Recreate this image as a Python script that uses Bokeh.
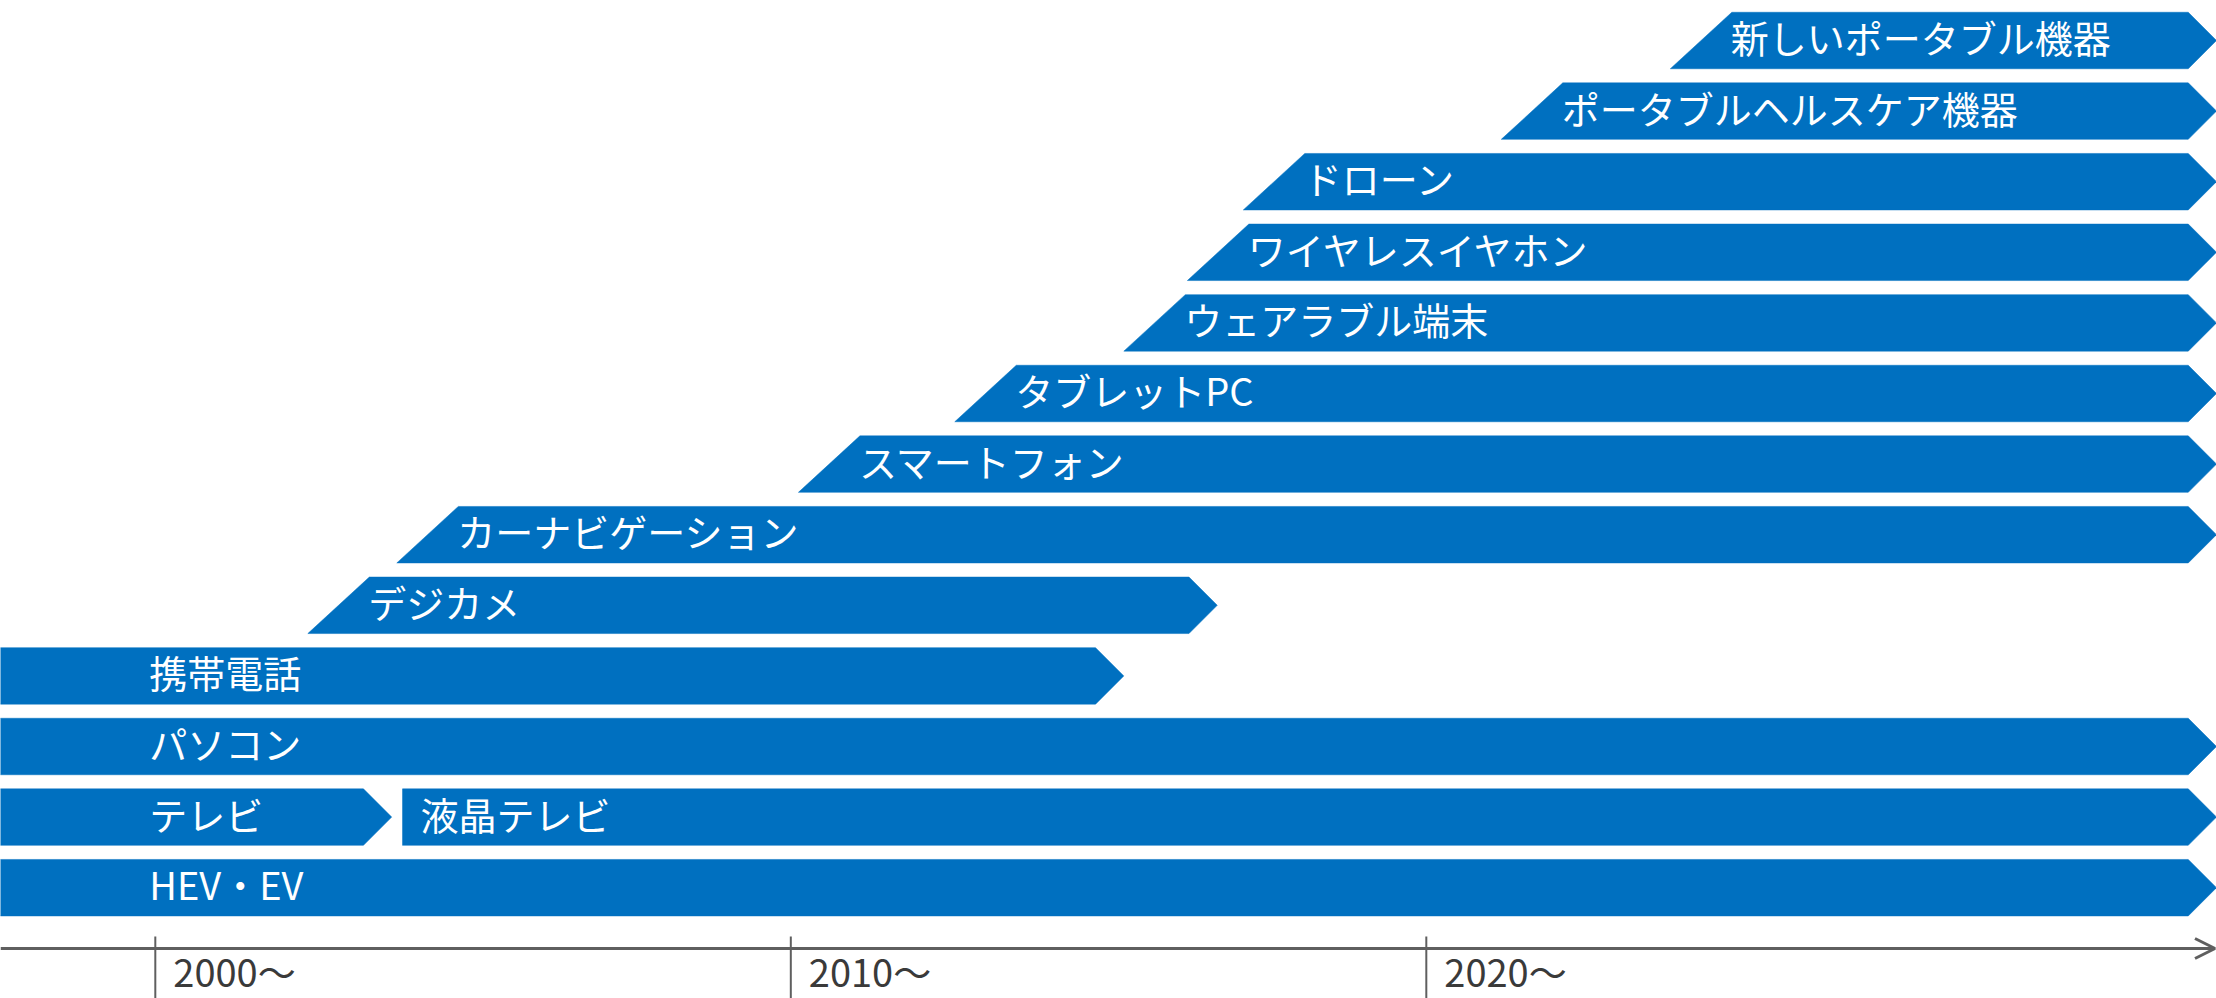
from bokeh.plotting import figure
from bokeh.models import Range1d, Arrow, OpenHead, ColumnDataSource
from bokeh.embed import file_html
from bokeh.resources import INLINE
from bokeh.core.properties import value

W, H = 2216, 998

# ---------------- data ----------------
# one row per line of the timeline, top to bottom
seg_labels = ["新しいポータブル機器", "ポータブルヘルスケア機器", "ドローン", "ワイヤレスイヤホン",
              "ウェアラブル端末", "タブレットPC", "スマートフォン", "カーナビゲーション",
              "デジカメ", "携帯電話", "パソコン", "テレビ", "液晶テレビ", "HEV・EV"]
seg_row = [0, 1, 2, 3, 4, 5, 6, 7, 8, 9, 10, 11, 11, 12]
# start year (None = already present before the chart's left edge)
seg_start = [2023.84, 2021.18, 2017.12, 2016.24, 2015.24, 2012.58, 2010.12, 2003.80,
             2002.40, None, None, None, 2003.89, None]
# end year (None = still continuing)
seg_end = [None, None, None, None, None, None, None, None,
           2016.71, 2015.24, None, 2003.72, None, None]
# slanted start = newly appearing category; flat = continuing / successor
seg_slanted = [True, True, True, True, True, True, True, True, True,
               False, False, False, False, False]

tick_years = [2000, 2010, 2020]
tick_labels = ["2000～", "2010～", "2020～"]

# ---------------- layout constants ----------------
PX_PER_YEAR = 63.55
X0 = 1997.564
X1 = X0 + W / PX_PER_YEAR
ROW_PITCH = 70.6          # px per row
FIRST_ROW_PX = 40.0       # centre of first row, px from top
Y_TOP = (0 - FIRST_ROW_PX) / ROW_PITCH
Y_BOT = (H - FIRST_ROW_PX) / ROW_PITCH
HALF = 28.25 / ROW_PITCH
CHEV = 28.25 / PX_PER_YEAR
SLANT = 61.5 / PX_PER_YEAR
AXIS_ROW = (948 - FIRST_ROW_PX) / ROW_PITCH
BLUE = "#0070C0"
GREY = "#5f5f5f"
FONT = "Noto Sans CJK JP"

p = figure(width=W, height=H, x_range=Range1d(X0, X1), y_range=Range1d(Y_BOT, Y_TOP),
           output_backend="svg", toolbar_location=None, min_border=0,
           x_axis_location=None, y_axis_location=None)
p.grid.visible = False
p.outline_line_color = None
p.background_fill_color = "white"
p.border_fill_color = "white"

xs, ys, lx, ly = [], [], [], []
for lab, r, s, e, sl in zip(seg_labels, seg_row, seg_start, seg_end, seg_slanted):
    left = X0 - 1 if s is None else s
    tip = X1 if e is None else e
    yt, yb = r - HALF, r + HALF
    if sl:
        px = [left, left + SLANT, tip - CHEV, tip, tip - CHEV]
        py = [yb, yt, yt, r, yb]
        lx.append(left + SLANT - 1 / PX_PER_YEAR)
    else:
        px = [left, tip - CHEV, tip, tip - CHEV, left]
        py = [yt, yt, r, yb, yb]
        if s is None:
            lx.append(tick_years[0] - 6 / PX_PER_YEAR)
        else:
            lx.append(left + 18 / PX_PER_YEAR)
    xs.append(px)
    ys.append(py)
    ly.append(r)

src = ColumnDataSource(dict(xs=xs, ys=ys, x=lx, y=ly, text=seg_labels))
p.patches("xs", "ys", source=src, fill_color=BLUE, line_color=BLUE, line_width=0.5)
p.text("x", "y", text="text", source=src, text_color="white",
       text_font=value(FONT), text_font_size="38px",
       text_baseline="middle", text_align="left", y_offset=-4)

# axis line with open arrow head
p.add_layout(Arrow(end=OpenHead(size=20, line_color=GREY, line_width=3),
                   x_start=X0, y_start=AXIS_ROW, x_end=X1 - 1.5 / PX_PER_YEAR, y_end=AXIS_ROW,
                   line_color=GREY, line_width=3))

# ticks
p.segment(x0=tick_years, y0=[AXIS_ROW - 12 / ROW_PITCH] * 3, x1=tick_years, y1=[Y_BOT] * 3,
          line_color=GREY, line_width=2)
p.text(x=[t + 18 / PX_PER_YEAR for t in tick_years],
       y=[(970 - FIRST_ROW_PX) / ROW_PITCH] * 3, text=tick_labels,
       text_color="#3a3a3a", text_font=value(FONT), text_font_size="38px",
       text_baseline="middle", text_align="left")

open("out.html", "w").write(file_html(p, INLINE))
